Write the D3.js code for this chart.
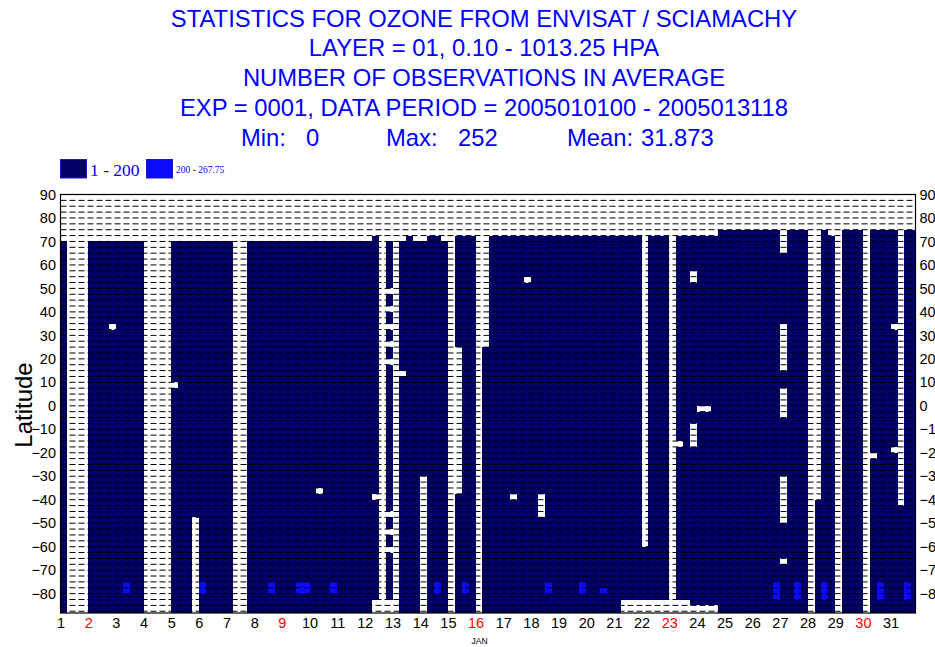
<!DOCTYPE html>
<html>
<head>
<meta charset="utf-8">
<script src="https://cdn.jsdelivr.net/npm/d3@7/dist/d3.min.js"></script>
<style>
  body { margin: 0; background: #fff; }
  svg { display: block; }
</style>
</head>
<body>
<svg id="chart" width="935" height="647"></svg>
<script>
// ---- header text ----
const titleLines = [
  "STATISTICS FOR OZONE FROM ENVISAT / SCIAMACHY",
  "LAYER = 01, 0.10 - 1013.25 HPA",
  "NUMBER OF OBSERVATIONS IN AVERAGE",
  "EXP = 0001, DATA PERIOD = 2005010100 - 2005013118"
];
const statNames = ["Min:", "Max:", "Mean:"];
const statValues = ["0", "252", "31.873"];

// ---- colour classes ----
const classLabels = ["1 - 200", "200 - 267.75"];
const classColors = ["#000066", "#0a0aff"];

// ---- axes ----
const dayTicks = d3.range(1, 32);
const sundayTicks = [2, 9, 16, 23, 30];
const latTicks = d3.range(-80, 91, 10);
const monthLabel = "JAN";
const stepsPerDay = 4;          // 00, 06, 12, 18 UTC
const latStep = 2.5;            // grid row height in degrees

// ---- data: observed swaths per 6-hourly step ----
// [first step, last step, southern latitude, northern latitude]
const swaths = [
  [0, 0, -90, 70],
  [4, 11, -90, 70],
  [16, 18, -90, 70],
  [19, 19, -47.5, 70],
  [20, 24, -90, 70],
  [27, 44, -90, 70],
  [45, 45, -82.5, 72.5],
  [47, 47, -82.5, 70],
  [49, 49, -90, 70],
  [50, 50, -90, 72.5],
  [51, 51, -90, 70],
  [52, 52, -30, 70],
  [53, 54, -90, 72.5],
  [55, 55, -90, 70],
  [57, 59, -90, 72.5],
  [61, 61, -90, 25],
  [62, 80, -90, 72.5],
  [81, 83, -82.5, 72.5],
  [84, 84, -82.5, -60],
  [85, 87, -82.5, 72.5],
  [89, 90, -82.5, 72.5],
  [91, 94, -85, 72.5],
  [95, 103, -90, 75],
  [104, 104, -90, 65],
  [105, 107, -90, 75],
  [109, 109, -90, -40],
  [110, 110, -90, 75],
  [111, 111, -90, 72.5],
  [113, 115, -90, 75],
  [117, 120, -90, 75],
  [121, 121, -90, -42.5],
  [122, 123, -90, 75]
];

// cells inside a swath with no observations: [step, south, north]
const emptyCells = [
  [7, 32.5, 35],
  [16, 7.5, 10],
  [37, -37.5, -35],
  [45, -40, -37.5],
  [47, 47.5, 50],
  [47, 40, 42.5],
  [47, 32.5, 35],
  [47, 25, 27.5],
  [47, 17.5, 20],
  [47, -47.5, -45],
  [47, -55, -52.5],
  [47, -62.5, -60],
  [49, 12.5, 15],
  [57, -37.5, 25],
  [65, -40, -37.5],
  [67, 52.5, 55],
  [69, -47.5, -37.5],
  [89, -17.5, -15],
  [91, 52.5, 57.5],
  [91, -17.5, -7.5],
  [92, -2.5, 0],
  [93, -2.5, 0],
  [104, 15, 35],
  [104, -5, 7.5],
  [104, -50, -30],
  [104, -67.5, -65],
  [117, -22.5, -20],
  [120, 32.5, 35],
  [120, -20, -17.5]
];

// cells with more than 200 observations: [step, south, north]
const highCells = [
  [9, -80, -75], [20, -80, -75], [30, -80, -75], [34, -80, -75],
  [35, -80, -75], [39, -80, -75], [54, -80, -75], [58, -80, -75],
  [70, -80, -75], [75, -80, -75], [78, -80, -77.5],
  [103, -82.5, -75], [106, -82.5, -75], [110, -82.5, -75],
  [118, -82.5, -75], [122, -82.5, -75]
];

// ---- layout ----
const plot = { left: 60.5, right: 915.5, top: 194.5, bottom: 613 };
const svg = d3.select("#chart");

const x = d3.scaleLinear().domain([1, 31.9]).range([plot.left, plot.right]);
const y = d3.scaleLinear().domain([-88.25, 90]).range([plot.bottom, plot.top]);
const stepX = k => x(1 + k / stepsPerDay);

// ---- titles ----
const blue = "#0000ff";
const titleFont = "Liberation Sans, Arial, Helvetica, sans-serif";
svg.append("g").selectAll("text").data(titleLines).join("text")
  .attr("x", 484).attr("y", (d, i) => 26.5 + i * 29.7)
  .attr("text-anchor", "middle")
  .attr("font-family", titleFont).attr("font-size", 23.8)
  .attr("fill", blue)
  .text(d => d);

const statNameX = [241, 386, 567];
const statValueX = [306, 458, 641];
const statRow = svg.append("g").attr("font-family", titleFont)
  .attr("font-size", 23.8).attr("fill", blue);
statRow.selectAll("text.name").data(statNames).join("text")
  .attr("class", "name").attr("x", (d, i) => statNameX[i]).attr("y", 145.5).text(d => d);
statRow.selectAll("text.val").data(statValues).join("text")
  .attr("class", "val").attr("x", (d, i) => statValueX[i]).attr("y", 145.5).text(d => d);

// ---- legend ----
const legend = svg.append("g");
const legendX = [60.5, 146.5];
const legendSize = [17.5, 9.5];
const legendBase = [176, 172.5];
legend.selectAll("rect").data(classLabels).join("rect")
  .attr("x", (d, i) => legendX[i]).attr("y", 159.5)
  .attr("width", 26).attr("height", 18.5)
  .attr("fill", (d, i) => classColors[i])
  .attr("stroke", "#1a1acc").attr("stroke-width", 1);
legend.selectAll("text").data(classLabels).join("text")
  .attr("x", (d, i) => legendX[i] + 29.5).attr("y", (d, i) => legendBase[i])
  .attr("font-family", "Liberation Serif, Times New Roman, serif")
  .attr("font-size", (d, i) => legendSize[i])
  .attr("fill", blue)
  .text(d => d);

// ---- plot cells ----
svg.append("defs").append("clipPath").attr("id", "plotClip")
  .append("rect").attr("x", plot.left).attr("y", plot.top)
  .attr("width", plot.right - plot.left).attr("height", plot.bottom - plot.top);

const cells = svg.append("g").attr("clip-path", "url(#plotClip)")
  .attr("shape-rendering", "crispEdges");

cells.append("g").selectAll("rect").data(swaths).join("rect")
  .attr("x", d => stepX(d[0]))
  .attr("width", d => stepX(d[1] + 1) - stepX(d[0]))
  .attr("y", d => y(d[3]))
  .attr("height", d => y(d[2]) - y(d[3]))
  .attr("fill", classColors[0]);

cells.append("g").selectAll("rect").data(emptyCells).join("rect")
  .attr("x", d => stepX(d[0]))
  .attr("width", d => stepX(d[0] + 1) - stepX(d[0]))
  .attr("y", d => y(d[2]))
  .attr("height", d => y(d[1]) - y(d[2]))
  .attr("fill", "#fff");

cells.append("g").selectAll("rect").data(highCells).join("rect")
  .attr("x", d => stepX(d[0]))
  .attr("width", d => stepX(d[0] + 1) - stepX(d[0]))
  .attr("y", d => y(d[2]))
  .attr("height", d => y(d[1]) - y(d[2]))
  .attr("fill", classColors[1]);

// dashed latitude grid, drawn over the cells
const gridLats = d3.range(-87.5, 90, latStep);
svg.append("g").selectAll("line").data(gridLats).join("line")
  .attr("x1", plot.left).attr("x2", plot.right)
  .attr("y1", d => y(d)).attr("y2", d => y(d))
  .attr("stroke", "#000").attr("stroke-width", 1)
  .attr("stroke-dasharray", "6,3");

// frame
svg.append("rect")
  .attr("x", plot.left).attr("y", plot.top)
  .attr("width", plot.right - plot.left).attr("height", plot.bottom - plot.top)
  .attr("fill", "none").attr("stroke", "#000").attr("stroke-width", 1.2);

// ---- axes labels ----
const axisFont = "Liberation Sans, Arial, Helvetica, sans-serif";
const yLeft = d3.axisLeft(y).tickValues(latTicks).tickSize(0).tickPadding(4);
const yRight = d3.axisRight(y).tickValues(latTicks).tickSize(0).tickPadding(4);
const xBottom = d3.axisBottom(x).tickValues(dayTicks).tickSize(0).tickPadding(5)
  .tickFormat(d3.format("d"));

function styleAxis(g) {
  g.select(".domain").remove();
  g.selectAll("text").attr("font-family", axisFont).attr("font-size", 14.5)
    .attr("fill", "#000");
}
svg.append("g").attr("transform", `translate(${plot.left - 0.5},0)`).call(yLeft).call(styleAxis);
svg.append("g").attr("transform", `translate(${plot.right},0)`).call(yRight).call(styleAxis);
const xg = svg.append("g").attr("transform", `translate(0,${plot.bottom})`).call(xBottom).call(styleAxis);
xg.selectAll("text").attr("fill", d => sundayTicks.includes(d) ? "#ff0000" : "#000");

svg.append("text")
  .attr("x", x(16) + 4).attr("y", 644)
  .attr("text-anchor", "middle")
  .attr("font-family", axisFont).attr("font-size", 8.5)
  .text(monthLabel);

svg.append("text")
  .attr("transform", "translate(32,405) rotate(-90)")
  .attr("text-anchor", "middle")
  .attr("font-family", axisFont).attr("font-size", 24)
  .text("Latitude");
</script>
</body>
</html>
